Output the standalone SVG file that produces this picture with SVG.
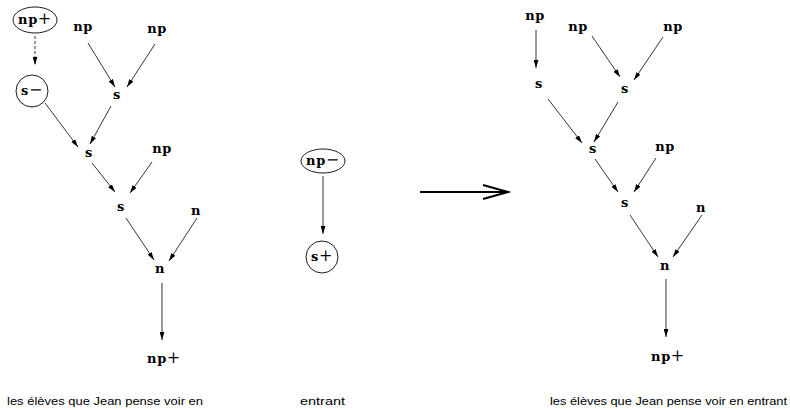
<svg xmlns="http://www.w3.org/2000/svg" width="790" height="410" viewBox="0 0 790 410">
<style>
.lbl{font-family:"DejaVu Serif","Liberation Serif",serif;font-weight:bold;font-size:13px;letter-spacing:0.6px;fill:#000;text-anchor:middle}
.op{font-weight:normal;font-size:16px}
.txt{font-family:"Liberation Sans","DejaVu Sans",sans-serif;font-size:11px;fill:#000}
.e{stroke:#000;stroke-width:0.8;fill:none;marker-end:url(#ah)}
.d{stroke-dasharray:3,2}
.shape{fill:#fff;stroke:#000;stroke-width:0.9}
</style>
<defs>
<marker id="ah" viewBox="0 0 10 6" refX="10" refY="3" markerWidth="8" markerHeight="5" markerUnits="userSpaceOnUse" orient="auto">
<path d="M0,0 L10,3 L0,6 Z" fill="#000"/>
</marker>
</defs>
<rect width="790" height="410" fill="#fff"/>
<g id="connectors">
<line class="e d" x1="35" y1="36" x2="35" y2="65"/>
<line class="e" x1="88" y1="43" x2="115" y2="87"/>
<line class="e" x1="155" y1="44" x2="127" y2="87"/>
<line class="e" x1="111" y1="106" x2="90" y2="144"/>
<line class="e" x1="45" y1="103" x2="78" y2="147"/>
<line class="e" x1="92" y1="163" x2="115" y2="192"/>
<line class="e" x1="152" y1="162" x2="130" y2="193"/>
<line class="e" x1="126" y1="218" x2="154" y2="260"/>
<line class="e" x1="197" y1="218" x2="169" y2="261"/>
<line class="e" x1="162" y1="283" x2="162" y2="340"/>
<line class="e" x1="323" y1="176" x2="323" y2="234"/>
<line class="e" x1="536" y1="30" x2="536" y2="68"/>
<line class="e" x1="592" y1="36" x2="620" y2="77"/>
<line class="e" x1="663" y1="37" x2="634" y2="80"/>
<line class="e" x1="548" y1="99" x2="582" y2="143"/>
<line class="e" x1="618" y1="102" x2="594" y2="142"/>
<line class="e" x1="595" y1="159" x2="618" y2="192"/>
<line class="e" x1="656" y1="158" x2="634" y2="192"/>
<line class="e" x1="630" y1="215" x2="658" y2="257"/>
<line class="e" x1="702" y1="215" x2="673" y2="257"/>
<line class="e" x1="666" y1="279" x2="666" y2="337"/>
<g id="big-arrow" stroke="#000" stroke-width="2" fill="none">
<line x1="420" y1="192" x2="506" y2="192"/>
<polyline points="483,185 508,192 483,199"/>
</g>
</g>
<g id="L-npplus"><ellipse class="shape" cx="35" cy="20" rx="22" ry="13"/><text class="lbl" x="35" y="24">np<tspan class="op">+</tspan></text></g>
<g id="L-sminus"><circle class="shape" cx="32" cy="91" r="16"/><text class="lbl" x="32" y="95">s<tspan class="op">−</tspan></text></g>
<g id="L-np1"><text class="lbl" x="83" y="31">np</text></g>
<g id="L-np2"><text class="lbl" x="157" y="33">np</text></g>
<g id="L-s1"><text class="lbl" x="117" y="99">s</text></g>
<g id="L-s2"><text class="lbl" x="89" y="157">s</text></g>
<g id="L-np3"><text class="lbl" x="162" y="153">np</text></g>
<g id="L-s3"><text class="lbl" x="121" y="211">s</text></g>
<g id="L-n1"><text class="lbl" x="196" y="215">n</text></g>
<g id="L-n2"><text class="lbl" x="160" y="273">n</text></g>
<g id="L-nproot"><text class="lbl" x="164" y="363">np<tspan class="op">+</tspan></text></g>
<g id="M-npminus"><ellipse class="shape" cx="323" cy="161" rx="22" ry="12"/><text class="lbl" x="323" y="165">np<tspan class="op">−</tspan></text></g>
<g id="M-splus"><circle class="shape" cx="322" cy="257" r="16"/><text class="lbl" x="322" y="261">s<tspan class="op">+</tspan></text></g>
<g id="R-npA"><text class="lbl" x="535" y="20">np</text></g>
<g id="R-sA"><text class="lbl" x="539" y="88">s</text></g>
<g id="R-npB"><text class="lbl" x="578" y="31">np</text></g>
<g id="R-npC"><text class="lbl" x="673" y="31">np</text></g>
<g id="R-sB"><text class="lbl" x="625" y="93">s</text></g>
<g id="R-sC"><text class="lbl" x="593" y="153">s</text></g>
<g id="R-npD"><text class="lbl" x="665" y="151">np</text></g>
<g id="R-sD"><text class="lbl" x="625" y="207">s</text></g>
<g id="R-nE"><text class="lbl" x="701" y="212">n</text></g>
<g id="R-nF"><text class="lbl" x="665" y="270">n</text></g>
<g id="R-nproot"><text class="lbl" x="668" y="361">np<tspan class="op">+</tspan></text></g>
<g id="sentences">
<text class="txt" x="7" y="405" textLength="196" lengthAdjust="spacingAndGlyphs">les élèves que Jean pense voir en</text>
<text class="txt" x="300" y="405" textLength="45" lengthAdjust="spacingAndGlyphs">entrant</text>
<text class="txt" x="550" y="405" textLength="237" lengthAdjust="spacingAndGlyphs">les élèves que Jean pense voir en entrant</text>
</g>
</svg>
